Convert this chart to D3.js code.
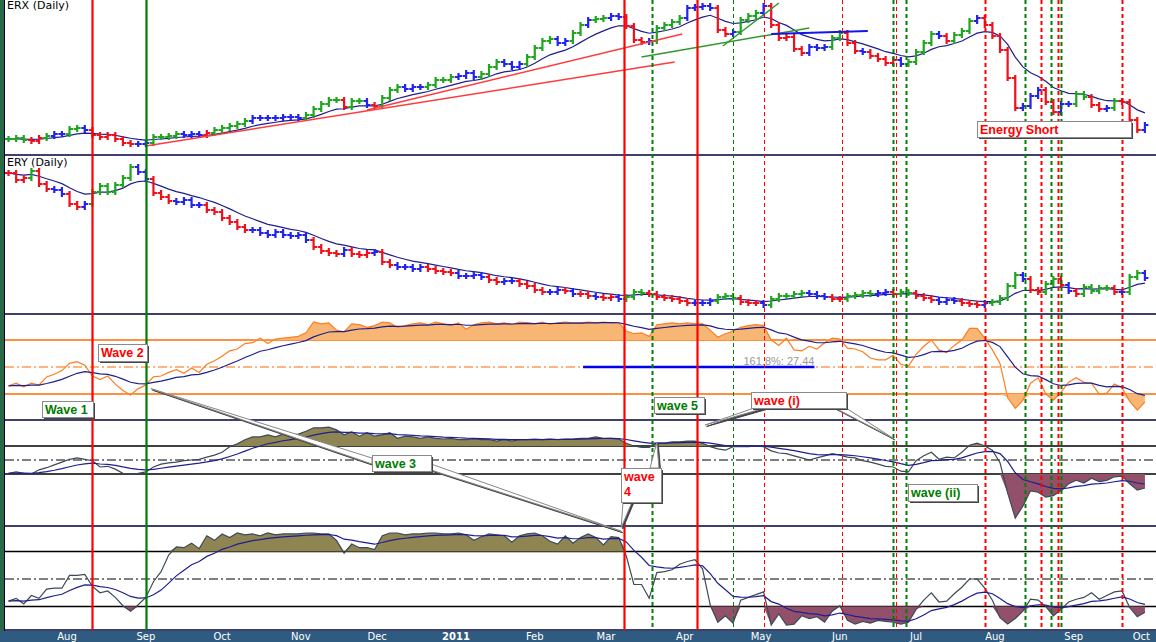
<!DOCTYPE html>
<html>
<head>
<meta charset="utf-8">
<script src="https://cdn.jsdelivr.net/npm/d3@7"></script>
<style>
  body { margin: 0; background: #fff; overflow: hidden; }
  svg { display: block; }
</style>
</head>
<body>
<script>
// one reading every 3 calendar days, starting here
const firstDay = '2010-07-09'

const erxClose = [
  26.5, 27, 26, 25.5, 27, 28, 29, 29, 31.5, 32,
  31, 28.5, 27.5, 28.5, 26.5, 24.5, 24, 24, 24.5, 27.5,
  27.5, 28, 29, 28.5, 29, 28.5, 29.5, 31, 32, 33,
  34, 35.5, 37, 37, 37, 37, 37.5, 37.5, 37, 38.5,
  41.5, 44, 46, 46, 42.5, 45.5, 45.5, 43.5, 43, 47,
  51, 52.5, 51.5, 52.5, 52.5, 53.5, 56, 56, 57.5, 58,
  59.5, 57.5, 59, 62.5, 65, 64, 62.5, 64, 67.5, 72,
  75.5, 76.5, 74.5, 75.5, 79.5, 83.5, 86, 86.5, 87, 88,
  87.5, 83, 76, 75, 75.5, 82, 83.5, 85, 87, 92,
  92.5, 93, 92, 81, 79, 80, 86, 88, 89.5, 93,
  83.5, 77, 77.5, 71.5, 69.5, 72.5, 72, 72.5, 77, 79.5,
  74.5, 70.5, 70, 68, 66.5, 64.5, 66, 64, 65, 70,
  74.5, 79, 78, 75.5, 78.5, 80.5, 85.5, 87, 83.5, 78,
  71, 57, 42, 43, 48, 51, 45, 40, 44, 44,
  49, 47.5, 43.5, 41.5, 42, 45.5, 45, 36, 31, 33.5
]
// bar colouring state: g = up, r = down, b = neutral
const erxTrend =
  'gggrrgbbgg' + 'brrrrrrbbg' + 'gggbbbrggg' + 'ggbbbbbbbg' + 'ggggrggbrg' +
  'ggbbbggggb' + 'bbgggbbbgg' + 'ggbbggbggb' + 'brrrbggggb' + 'bbbrrbgggb' +
  'rrrrrbbbgg' + 'rrbrrrrbgg' + 'ggbrgggbrr' + 'rrrbbbrrbb' + 'ggrrbgrrrb'

const eryClose = [
  73.5, 70, 71, 74.5, 68, 65.5, 65, 63, 58, 56.5,
  58, 64, 67, 64, 67.5, 71, 76.5, 74, 70.5, 63.5,
  61.5, 59.5, 59, 60, 57.5, 57.5, 55, 54, 51, 49,
  46.5, 45, 45, 43.5, 42.5, 44, 42.5, 42, 42.5, 40,
  36.5, 34.5, 33.5, 33, 35, 33, 32.5, 33.5, 34, 29,
  27.5, 26.5, 26.5, 25.5, 26.5, 25.5, 24.5, 24, 23.5, 22,
  22, 22.5, 21.5, 20, 19, 19.5, 19.5, 18, 17, 15,
  14, 14, 15, 14.5, 13, 13, 12, 11.5, 11, 11.5,
  10.5, 11.5, 14, 13.5, 13, 11.5, 11, 10.5, 9.5, 8.5,
  8.5, 8.5, 9.5, 11.5, 12, 11, 9, 8.5, 8.5, 7.5,
  10.5, 12, 12, 13, 13.5, 13, 12, 11.5, 10.5, 10.5,
  12, 12.5, 13.5, 13, 13.5, 14, 13, 14, 13.5, 12,
  11, 10, 9, 10, 9.5, 8.5, 8, 7.5, 8.5, 9,
  11, 17, 22.5, 20.5, 15, 14, 18, 20.5, 17.5, 14.5,
  13, 16.5, 14.5, 16, 16, 14, 14, 21.5, 23.5, 21
]
const eryTrend =
  'rrrgrrbbrr' + 'bggggggbbr' + 'rrbbbbrrrr' + 'rrbbbbbbbb' + 'rrrrbrrrbr' +
  'rbbbbrrrrb' + 'bbbrrbbrrr' + 'rbbrbrrbrr' + 'bgggrrrrrr' + 'bbbgggrrrb' +
  'gggggbbbrr' + 'ggggbbrggr' + 'rrbbbrrrbg' + 'gggbrrggrb' + 'rggggrbggb'

// oscillator panels
const fastStoch = [
  29, 32, 28, 32, 30, 39, 42, 46, 54, 56,
  52, 40, 36, 40, 31, 24, 19, 26, 30, 39,
  40, 44, 47, 43, 49, 44, 53, 57, 62, 68,
  70, 76, 77, 82, 76, 81, 82, 83, 84, 88,
  100, 98, 99, 91, 89, 98, 97, 94, 96, 100,
  99, 94, 96, 98, 99, 97, 100, 98, 96, 99,
  92, 97, 99, 100, 98, 99, 97, 100, 99, 98,
  100, 97, 99, 100, 99, 99, 100, 99, 100, 99,
  99, 90, 87, 88, 84, 97, 98, 99, 98, 99,
  98, 98, 91, 83, 87, 90, 94, 96, 97, 96,
  80, 74, 82, 69, 68, 73, 70, 77, 82, 81,
  71, 70, 67, 60, 58, 58, 63, 53, 51, 64,
  73, 80, 69, 66, 74, 80, 93, 93, 82, 69,
  54, 16, 4, 13, 32, 38, 20, 13, 22, 33,
  38, 33, 32, 20, 21, 31, 27, 12, 2, 11
]
const momentum = [
  -19, -17, -19, -20, -14, -11, -7, -3, 1, 3,
  1, -1, -10, -9, -13, -19, -20, -19, -17, -10,
  -6, -4, -3, -1, 0, 1, 4, 7, 11, 19,
  23, 29, 33, 33, 36, 33, 37, 36, 37, 41,
  46, 46, 47, 43, 36, 40, 34, 39, 34, 36,
  39, 31, 34, 33, 31, 33, 31, 30, 31, 29,
  29, 30, 29, 29, 27, 29, 27, 29, 29, 30,
  29, 30, 29, 30, 30, 31, 31, 33, 31, 31,
  30, 24, 20, 18, 18, 24, 24, 26, 26, 27,
  27, 24, 19, 16, 14, 19, 19, 19, 20, 19,
  13, 10, 9, 6, 3, 0, 3, 6, 9, 7,
  4, 3, -1, -3, -6, -9, -10, -16, -17, -1,
  6, 11, 1, 4, 3, 11, 21, 24, 20, 14,
  -4, -47, -83, -66, -44, -46, -53, -51, -44, -34,
  -29, -33, -26, -31, -29, -24, -23, -34, -43, -40
]
const slowStoch = [
  26, 29, 23, 32, 29, 39, 40, 40, 54, 54,
  55, 42, 35, 37, 30, 21, 15, 22, 30, 47,
  58, 76, 85, 84, 89, 83, 97, 92, 99, 95,
  100, 98, 99, 97, 100, 98, 99, 99, 99, 100,
  100, 99, 99, 92, 78, 88, 84, 84, 82, 97,
  100, 100, 98, 99, 99, 100, 100, 99, 99, 100,
  98, 92, 96, 99, 98, 97, 90, 97, 99, 100,
  97, 91, 88, 97, 89, 95, 99, 95, 87, 96,
  95, 75, 44, 44, 29, 57, 58, 60, 66, 69,
  71, 61, 22, 3, 10, 2, 27, 30, 33, 36,
  0, 12, 0, 1, 10, 7, 9, 3, 15, 21,
  5, 1, 4, 2, 5, 4, 3, 1, 3, 17,
  27, 35, 25, 26, 34, 41, 50, 50, 40, 27,
  8, 1, 7, 15, 28, 27, 20, 10, 17, 25,
  28, 30, 35, 28, 32, 36, 37, 19, 9, 14
]

// marked turning points
const signals = [
  ['2010-08-11', 'sellMajor'], ['2010-09-01', 'buyMajor'],
  ['2011-03-08', 'sellMajor'], ['2011-03-19', 'buy'],
  ['2011-04-06', 'sellMajor'], ['2011-04-20', 'buyMinor'],
  ['2011-05-02', 'sellMinor'], ['2011-06-02', 'sellMinor'],
  ['2011-06-22', 'buy'], ['2011-06-23', 'sellMinor'],
  ['2011-06-27', 'buy'], ['2011-07-28', 'sell'],
  ['2011-08-13', 'buy'], ['2011-08-19', 'sell'],
  ['2011-08-23', 'buy'], ['2011-08-26', 'sell'],
  ['2011-08-27', 'buy'], ['2011-09-20', 'sell']
]

const trendLines = [
  {panel: 'erx', kind: 'support', from: ['2010-09-01', 23], to: ['2011-03-28', 65]},
  {panel: 'erx', kind: 'support', from: ['2010-11-27', 41], to: ['2011-03-31', 79]},
  {panel: 'erx', kind: 'channel', from: ['2011-03-15', 67.5], to: ['2011-05-20', 82]},
  {panel: 'erx', kind: 'channel', from: ['2011-04-16', 73], to: ['2011-05-08', 94.5]},
  {panel: 'erx', kind: 'target', from: ['2011-05-05', 79], to: ['2011-06-12', 80.5]},
  {panel: 'fast', kind: 'fib', from: ['2011-02-20', 50], to: ['2011-05-22', 50]}
]
const fibLabel = '161.8%: 27.44'

const W = 1156, H = 642
const parse = d3.timeParse('%Y-%m-%d')
const start = parse(firstDay)
const dates = erxClose.map((d, i) => d3.timeDay.offset(start, 3 * i))

const x = d3.scaleTime()
  .domain([parse('2010-08-01'), parse('2011-10-01')])
  .range([67, 1150])

const panels = {
  erx:  {top: 0,   bottom: 155, y: d3.scaleLinear().domain([20, 95]).range([152, 2])},
  ery:  {top: 155, bottom: 314, y: d3.scaleLinear().domain([5, 80]).range([310, 160])},
  fast: {top: 314, bottom: 420, y: d3.scaleLinear().domain([0, 100]).range([412, 322])},
  mom:  {top: 420, bottom: 526, y: d3.scaleLinear().domain([-20, 20]).range([474, 446])},
  slow: {top: 526, bottom: 630, y: d3.scaleLinear().domain([0, 100]).range([625, 533])}
}

const barColor = {g: '#1fa51f', r: '#f0101c', b: '#2323ee'}
const maColor = '#1e1e90'

function ema(values, k) {
  let m
  return values.map((v, i) => (m = i ? m + k * (v - m) : v))
}

const svg = d3.select('body').append('svg').attr('width', W).attr('height', H)
const defs = svg.append('defs')

Object.entries(panels).forEach(([name, p]) => {
  defs.append('clipPath').attr('id', 'clip-' + name)
    .append('rect').attr('x', 5).attr('y', p.top).attr('width', W - 5).attr('height', p.bottom - p.top)
  p.g = svg.append('g').attr('clip-path', `url(#clip-${name})`)
})

svg.append('rect').attr('x', 0).attr('y', 0).attr('width', W).attr('height', H).attr('fill', '#fff').lower()

// reference levels
function levels(p, vals, color) {
  vals.forEach((v, i) => {
    p.g.append('line')
      .attr('x1', 5).attr('x2', W).attr('y1', p.y(v)).attr('y2', p.y(v))
      .attr('stroke', color).attr('stroke-width', i === 1 ? 1 : 1.5)
      .attr('stroke-dasharray', i === 1 ? '9,3,2,3' : null)
  })
}
levels(panels.fast, [80, 50, 20], '#ff6a00')
levels(panels.mom, [20, 0, -20], '#000')
levels(panels.slow, [80, 50, 20], '#000')

const xi = (d, i) => x(dates[i])

function band(p, values, level, above, fill) {
  const area = d3.area().x(xi).y0(p.y(level))
    .y1(d => p.y(above ? Math.max(d, level) : Math.min(d, level)))
  p.g.append('path').attr('d', area(values)).attr('fill', fill).attr('stroke', 'none')
}

function trace(p, values, color, width) {
  p.g.append('path').attr('d', d3.line().x(xi).y(d => p.y(d))(values))
    .attr('fill', 'none').attr('stroke', color).attr('stroke-width', width)
}

// oscillator panels
band(panels.fast, fastStoch, 80, true, '#f8b675')
band(panels.fast, fastStoch, 20, false, '#f8b675')
trace(panels.fast, fastStoch, '#ff7d20', 1.2)
trace(panels.fast, ema(fastStoch, 0.2), maColor, 1.2)

band(panels.mom, momentum, 20, true, '#8f8552')
band(panels.mom, momentum, -20, false, '#93506a')
trace(panels.mom, momentum, '#3b4a58', 1.2)
trace(panels.mom, ema(momentum, 0.2), maColor, 1.2)

band(panels.slow, slowStoch, 80, true, '#8f8552')
band(panels.slow, slowStoch, 20, false, '#93506a')
trace(panels.slow, slowStoch, '#3b4a58', 1.2)
trace(panels.slow, ema(slowStoch, 0.2), maColor, 1.2)

// price panels
function priceBars(p, closes, trend) {
  trace(p, ema(closes, 0.2), maColor, 1.2)
  p.g.append('g').selectAll('path').data(closes).join('path')
    .attr('d', (c, i) => {
      const o = i ? closes[i - 1] : c
      const px = x(dates[i]), yo = p.y(o), yc = p.y(c)
      return `M${px},${Math.min(yo, yc) - 3}V${Math.max(yo, yc) + 3}` +
        `M${px - 3.5},${yo}H${px}M${px},${yc}H${px + 3.5}`
    })
    .attr('fill', 'none')
    .attr('stroke', (c, i) => barColor[trend[i]])
    .attr('stroke-width', 2.2)
}
priceBars(panels.erx, erxClose, erxTrend)
priceBars(panels.ery, eryClose, eryTrend)

// trend lines
const lineStyle = {
  support: {stroke: '#ff3b3b', width: 1.5},
  channel: {stroke: '#2e9a2e', width: 1.5},
  target: {stroke: '#1515e6', width: 2},
  fib: {stroke: '#0000ee', width: 2.5}
}
trendLines.forEach(t => {
  const p = panels[t.panel], s = lineStyle[t.kind]
  p.g.append('line')
    .attr('x1', x(parse(t.from[0]))).attr('y1', p.y(t.from[1]))
    .attr('x2', x(parse(t.to[0]))).attr('y2', p.y(t.to[1]))
    .attr('stroke', s.stroke).attr('stroke-width', s.width)
  if (t.kind === 'fib') {
    p.g.append('text')
      .attr('x', x(parse(t.to[0]))).attr('y', p.y(t.to[1]) - 2)
      .attr('text-anchor', 'end')
      .attr('font-family', '"Liberation Sans", Arial, sans-serif')
      .attr('font-size', 11).attr('fill', '#999')
      .text(fibLabel)
  }
})

// titles
const titleFont = '"DejaVu Sans", Verdana, sans-serif'
svg.append('text').attr('x', 7).attr('y', 9).attr('font-family', titleFont)
  .attr('font-size', 11).attr('fill', '#000').text('ERX (Daily)')
svg.append('text').attr('x', 7).attr('y', 166).attr('font-family', titleFont)
  .attr('font-size', 11).attr('fill', '#000').text('ERY (Daily)')

// panel separators
;[155, 314, 420, 526, 630].forEach(y => {
  svg.append('line').attr('x1', 5).attr('x2', W).attr('y1', y).attr('y2', y)
    .attr('stroke', '#00003c').attr('stroke-width', 1.5)
})

// signal lines
const signalStyle = {
  sellMajor: {stroke: '#ff0000', width: 2.2, dash: null},
  buyMajor:  {stroke: '#007c00', width: 2.2, dash: null},
  sell:      {stroke: '#ff0000', width: 2,   dash: '4,3'},
  buy:       {stroke: '#008000', width: 2,   dash: '4,3'},
  sellMinor: {stroke: '#ff0000', width: 1,   dash: '4,3'},
  buyMinor:  {stroke: '#008000', width: 1,   dash: '4,3'}
}
svg.append('g').selectAll('line').data(signals).join('line')
  .attr('x1', d => Math.round(x(parse(d[0]))) + 0.5)
  .attr('x2', d => Math.round(x(parse(d[0]))) + 0.5)
  .attr('y1', 0).attr('y2', 630)
  .attr('stroke', d => signalStyle[d[1]].stroke)
  .attr('stroke-width', d => signalStyle[d[1]].width)
  .attr('stroke-dasharray', d => signalStyle[d[1]].dash)

// callouts
const calloutFont = '"Liberation Sans", Arial, sans-serif'
const toneColor = {sell: '#ff0000', buy: '#007c00'}
const callouts = [
  {lines: ['Wave 2'], tone: 'sell', at: '2010-08-13', top: 344, w: 49, h: 17},
  {lines: ['Wave 1'], tone: 'buy', at: '2010-07-22', top: 401, w: 51, h: 16},
  {lines: ['wave 3'], tone: 'buy', at: '2010-11-29', top: 455, w: 59, h: 16, tips: [
    {panel: 'fast', at: '2010-09-03', v: 26, base: [[0, 3], [0, 9]]},
    {panel: 'slow', at: '2011-03-07', v: 102, base: [[59, 9], [59, 15]]}
  ]},
  {lines: ['wave', '4'], tone: 'sell', at: '2011-03-07', top: 468, w: 40, h: 34, tips: [
    {panel: 'mom', at: '2011-03-21', v: 25, base: [[29, 0], [38, 0]]},
    {panel: 'slow', at: '2011-03-07', v: 106, base: [[2, 34], [11, 34]]}
  ]},
  {lines: ['wave 5'], tone: 'buy', at: '2011-03-20', top: 397, w: 50, h: 16},
  {lines: ['wave (i)'], tone: 'sell', at: '2011-04-27', top: 392, w: 95, h: 16, tips: [
    {panel: 'mom', at: '2011-04-09', v: 50, base: [[3, 16], [14, 16]]},
    {panel: 'mom', at: '2011-06-22', v: 31, base: [[84, 16], [95, 16]]}
  ]},
  {lines: ['wave (ii)'], tone: 'buy', at: '2011-06-28', top: 484, w: 69, h: 17},
  {lines: ['Energy Short'], tone: 'sell', at: '2011-07-25', top: 121, w: 154, h: 16}
]

const cg = svg.append('g')
callouts.forEach(c => {
  const left = Math.round(x(parse(c.at)))
  ;(c.tips || []).forEach(t => {
    const tx = x(parse(t.at)), ty = panels[t.panel].y(t.v)
    const pts = [[left + t.base[0][0], c.top + t.base[0][1]], [left + t.base[1][0], c.top + t.base[1][1]], [tx, ty]]
    cg.append('polygon').attr('points', pts.map(q => [q[0] + 1.5, q[1] + 1.5].join(',')).join(' '))
      .attr('fill', '#444').attr('stroke', '#444').attr('stroke-width', 1)
    cg.append('polygon').attr('points', pts.map(q => q.join(',')).join(' '))
      .attr('fill', '#fff').attr('stroke', '#888').attr('stroke-width', 1)
  })
  cg.append('rect').attr('x', left + 2).attr('y', c.top + 2).attr('width', c.w).attr('height', c.h)
    .attr('fill', '#444')
  cg.append('rect').attr('x', left + 0.5).attr('y', c.top + 0.5).attr('width', c.w).attr('height', c.h)
    .attr('fill', '#fff').attr('stroke', '#8a8a8a').attr('stroke-width', 1)
  c.lines.forEach((s, k) => {
    cg.append('text').attr('x', left + 3).attr('y', c.top + 13 + k * 15)
      .attr('font-family', calloutFont).attr('font-weight', 'bold').attr('font-size', 12.5)
      .attr('fill', toneColor[c.tone]).text(s)
  })
})

// left strip
svg.append('rect').attr('x', 0).attr('y', 0).attr('width', 4).attr('height', 631).attr('fill', '#2a6946')
svg.append('line').attr('x1', 4.5).attr('x2', 4.5).attr('y1', 0).attr('y2', 631)
  .attr('stroke', '#00003c').attr('stroke-width', 1)

// time axis band
svg.append('rect').attr('x', 0).attr('y', 631).attr('width', W).attr('height', H - 631).attr('fill', '#2f5b80')
const months = d3.timeMonth.range(parse('2010-08-01'), parse('2011-10-02'))
svg.append('g').selectAll('text').data(months).join('text')
  .attr('x', d => Math.min(x(d), W - 2))
  .attr('y', 640)
  .attr('text-anchor', d => x(d) + 10 > W ? 'end' : 'middle')
  .attr('font-family', titleFont).attr('font-size', 10)
  .attr('font-weight', d => d.getMonth() === 0 ? 'bold' : null)
  .attr('fill', '#fff')
  .text(d => d.getMonth() === 0 ? d3.timeFormat('%Y')(d) : d3.timeFormat('%b')(d))
</script>
</body>
</html>
